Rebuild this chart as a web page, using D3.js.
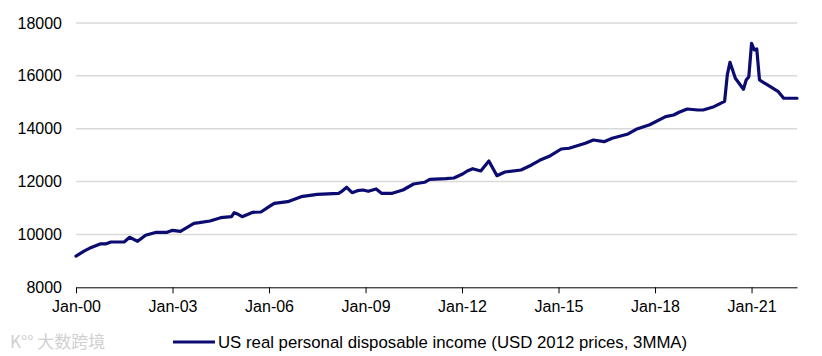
<!DOCTYPE html>
<html><head><meta charset="utf-8">
<script src="https://cdn.jsdelivr.net/npm/d3@7"></script>
<style>
html,body{margin:0;padding:0;background:#fff;}
svg{display:block;font-family:Arial,"Liberation Sans",sans-serif;}
</style></head>
<body><svg id="c" width="822" height="356"></svg>
<script>
// Data
const months = ["2000-01","2000-04","2000-06","2000-10","2000-12","2001-02","2001-07","2001-09","2001-12",
"2002-03","2002-07","2002-11","2003-01","2003-04","2003-09","2003-11","2004-03","2004-07","2004-11","2004-12",
"2005-01","2005-03","2005-07","2005-10","2006-01","2006-03","2006-08","2007-01","2007-07","2008-03","2008-04",
"2008-06","2008-08","2008-10","2008-12","2009-02","2009-05","2009-07","2009-11","2010-03","2010-07","2010-11",
"2011-01","2011-07","2011-10","2012-01","2012-03","2012-05","2012-08","2012-11","2013-02","2013-05","2013-11",
"2014-03","2014-06","2014-10","2015-02","2015-05","2015-11","2016-02","2016-06","2016-09","2017-03","2017-06",
"2017-11","2018-05","2018-08","2018-10","2019-01","2019-05","2019-07","2019-11","2020-02","2020-03","2020-04","2020-05",
"2020-07","2020-10","2020-11","2020-12","2021-01","2021-02","2021-03","2021-04","2021-07","2021-11","2022-01","2022-06"];
const income = [9180,9370,9475,9640,9640,9714,9714,9892,9740,
9968,10080,10080,10157,10118,10420,10445,10509,10634,10672,10823,
10785,10672,10838,10850,11050,11178,11240,11428,11519,11557,11617,
11784,11580,11655,11682,11632,11720,11557,11557,11682,11909,11973,
12087,12110,12136,12276,12401,12488,12401,12779,12223,12363,12439,
12628,12806,12980,13233,13260,13449,13574,13510,13638,13801,13979,
14150,14456,14520,14622,14747,14709,14709,14834,14990,15040,16050,16514,
15909,15492,15845,15969,17233,16980,17020,15845,15655,15402,15152,15152];
const yTicks = [8000,10000,12000,14000,16000,18000];
const xTickYears = [2000,2003,2006,2009,2012,2015,2018,2021];
const legendLabel = "US real personal disposable income (USD 2012 prices, 3MMA)";

(function(){
const parse = d3.timeParse("%Y-%m");
const data = months.map((m,i)=>({date:parse(m), value:income[i]}));

const svg = d3.select("#c");
const L = 76, R = 797, T = 23, B = 287.3;

const x = d3.scaleTime().domain([new Date(2000,0,1), new Date(2022,5,1)]).range([L, R]);
const y = d3.scaleLinear().domain([8000,18000]).range([B, T]);

// gridlines
svg.append("g").selectAll("line").data(yTicks.filter(t=>t>8000)).join("line")
  .attr("x1", L).attr("x2", R)
  .attr("y1", d=>y(d)).attr("y2", d=>y(d))
  .attr("stroke", "#d9d9d9").attr("stroke-width", 1.5);

// y labels
svg.append("g").selectAll("text").data(yTicks).join("text")
  .attr("x", 62).attr("y", d=>y(d)).attr("dy","0.35em")
  .attr("text-anchor","end").attr("font-size", 16).attr("fill","#000")
  .text(d=>d);

// x axis
const xAxis = d3.axisBottom(x)
  .tickValues(xTickYears.map(yr=>new Date(yr,0,1)))
  .tickFormat(d3.timeFormat("Jan-%y"))
  .tickSize(6).tickSizeOuter(0);
const gx = svg.append("g").attr("transform", `translate(0,${B})`).call(xAxis);
gx.select(".domain").attr("stroke","#000").attr("stroke-width",1);
gx.selectAll(".tick line").attr("stroke","#000");
gx.selectAll(".tick text").attr("font-size",16).attr("fill","#000")
  .attr("font-family","Arial,'Liberation Sans',sans-serif").attr("y",13);

// line
const line = d3.line().x(d=>x(d.date)).y(d=>y(d.value)).curve(d3.curveLinear);
svg.append("path").datum(data).attr("d", line)
  .attr("fill","none").attr("stroke","#0b0b70").attr("stroke-width",3.2)
  .attr("stroke-linejoin","round").attr("stroke-linecap","round");

// legend
svg.append("line").attr("x1",173).attr("x2",215).attr("y1",342).attr("y2",342)
  .attr("stroke","#0b0b70").attr("stroke-width",3);
svg.append("text").attr("x",218).attr("y",342).attr("dy","0.35em")
  .attr("font-size",16.8).attr("fill","#000").text(legendLabel);

// watermark
svg.append("text").attr("x",10).attr("y",348).attr("font-size",17)
  .attr("fill","#d0d0d0").attr("font-family","'Noto Sans CJK SC',sans-serif")
  .text("K°° 大数跨境");
})();
</script>
</body></html>
